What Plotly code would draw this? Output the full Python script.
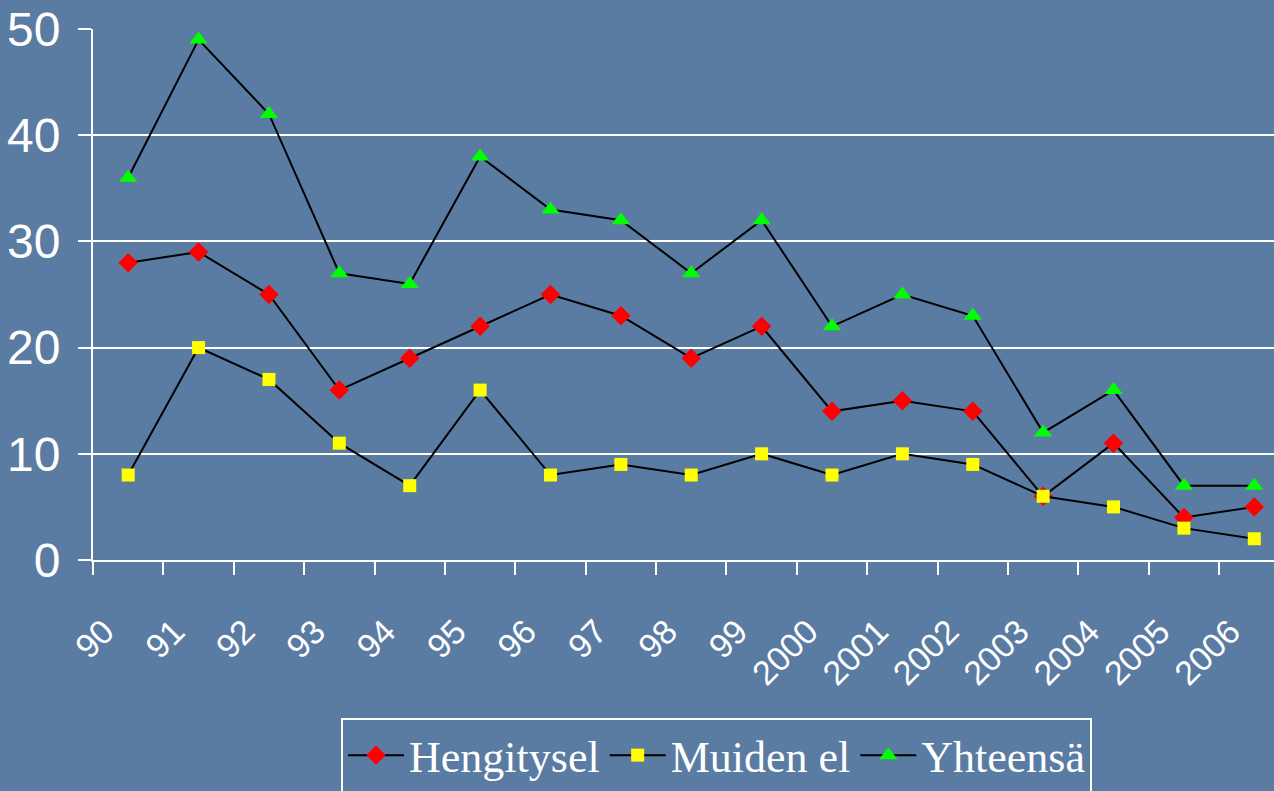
import plotly.graph_objects as go

years = ["90", "91", "92", "93", "94", "95", "96", "97", "98", "99",
         "2000", "2001", "2002", "2003", "2004", "2005", "2006"]
hengitysel = [28, 29, 25, 16, 19, 22, 25, 23, 19, 22, 14, 15, 14, 6, 11, 4, 5]
muiden_el = [8, 20, 17, 11, 7, 16, 8, 9, 8, 10, 8, 10, 9, 6, 5, 3, 2]
yhteensa = [36, 49, 42, 27, 26, 38, 33, 32, 27, 32, 22, 25, 23, 12, 16, 7, 7]

BG = "#5a7ba2"
SANS = "Liberation Sans Narrow, Arial Narrow, Liberation Sans, Arial, sans-serif"

fig = go.Figure()
fig.add_trace(go.Scatter(
    x=years, y=hengitysel, name="Hengitysel", mode="lines+markers",
    line=dict(color="black", width=2),
    marker=dict(symbol="diamond", color="#ff0000", size=15, line=dict(width=0)),
))
fig.add_trace(go.Scatter(
    x=years, y=muiden_el, name="Muiden el", mode="lines+markers",
    line=dict(color="black", width=2),
    marker=dict(symbol="square", color="#ffff00", size=13, line=dict(width=0)),
))
fig.add_trace(go.Scatter(
    x=years, y=yhteensa, name="Yhteensä", mode="lines+markers",
    line=dict(color="black", width=2),
    marker=dict(symbol="triangle-up", color="#00ff00", size=16, line=dict(width=0)),
))

fig.update_layout(
    width=1274, height=791,
    paper_bgcolor=BG, plot_bgcolor=BG,
    margin=dict(l=93, r=0, t=29, b=231, autoexpand=False),
    showlegend=True,
    legend=dict(
        orientation="h", x=0.21, y=-0.2976, xanchor="left", yanchor="top",
        font=dict(family="Liberation Serif, Times New Roman, serif", size=44, color="white"),
        bordercolor="white", borderwidth=2, bgcolor="rgba(0,0,0,0)",
        itemwidth=56, tracegroupgap=0,
    ),
    xaxis=dict(
        type="category", range=[-0.5, 16.28], automargin=False,
        showgrid=False, showline=True, linecolor="white", linewidth=2,
        ticks="outside", tickson="boundaries", ticklen=13, tickcolor="white", tickwidth=2,
        tickangle=-45, ticklabelstandoff=36, ticklabelshift=-24,
        tickfont=dict(family=SANS, size=34, color="white"),
    ),
    yaxis=dict(
        range=[0, 50], tickvals=[0, 10, 20, 30, 40, 50], automargin=False,
        showgrid=True, gridcolor="white", gridwidth=2,
        zeroline=False, showline=True, linecolor="white", linewidth=2,
        ticks="outside", ticklen=13, tickcolor="white", tickwidth=2,
        ticklabelstandoff=8,
        tickfont=dict(family=SANS, size=48, color="white"),
    ),
)

fig.write_html(
    "out.html",
    config={"displayModeBar": False},
    post_script="document.body.style.margin='0';document.body.style.overflow='hidden';"
                "document.body.style.background='" + BG + "';",
)
